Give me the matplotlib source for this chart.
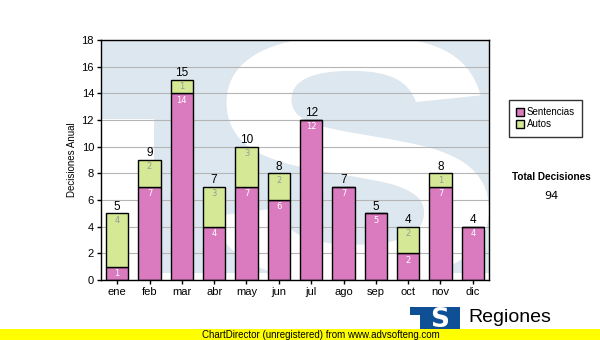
import matplotlib

matplotlib.use("Agg")
import numpy as np
from matplotlib import pyplot as plt
from matplotlib.font_manager import FontProperties
from matplotlib.patches import PathPatch, Polygon, Rectangle
from matplotlib.textpath import TextPath
from matplotlib.transforms import Affine2D

months = ["ene", "feb", "mar", "abr", "may", "jun", "jul", "ago", "sep", "oct", "nov", "dic"]
sentencias = [1, 7, 14, 4, 7, 6, 12, 7, 5, 2, 7, 4]
autos = [4, 2, 1, 3, 3, 2, 0, 0, 0, 2, 1, 0]
y_ticks = [0, 2, 4, 6, 8, 10, 12, 14, 16, 18]

PINK = "#da7bbf"
GREEN = "#d4e896"
WATERMARK = "#dde7f0"
LOGO_BLUE = "#0f4f95"

plt.rcParams["font.family"] = ["Liberation Sans", "DejaVu Sans"]

fig = plt.figure(figsize=(6, 3.4), dpi=100)
ax = fig.add_axes([101 / 600, 60 / 340, 388 / 600, 240 / 340])
ax.set_facecolor("white")
ax.set_axisbelow(True)

# background logo: blue block with a big white S cut into it
block = Polygon(
    [(0, 1), (1, 1), (1, 0.03), (0.137, 0.03), (0.137, 0.671), (0, 0.671)],
    closed=True, transform=ax.transAxes, facecolor=WATERMARK, edgecolor="none", zorder=0.1,
)
ax.add_patch(block)
s_path = TextPath((0, 0), "S", size=1, prop=FontProperties(family="Liberation Sans", weight="bold"))
ext = s_path.get_extents()
x0, x1, y0, y1 = 0.285, 1.0, -0.01, 1.02
s_tr = (
    Affine2D().translate(-ext.x0, -ext.y0).scale((x1 - x0) / ext.width, (y1 - y0) / ext.height).translate(x0, y0)
    + ax.transAxes
)
ax.add_patch(PathPatch(s_path, transform=s_tr, facecolor="white", edgecolor="none", zorder=0.2))

x = np.arange(len(months))
totals = [s + a for s, a in zip(sentencias, autos)]
width = 0.69

ax.bar(x, sentencias, width, color=PINK, edgecolor="black", linewidth=1, zorder=2, label="Sentencias")
ax.bar(x, autos, width, bottom=sentencias, color=GREEN, edgecolor="black", linewidth=1, zorder=2, label="Autos")

for i in range(len(months)):
    if sentencias[i] > 0:
        ax.annotate(str(sentencias[i]), (x[i], sentencias[i]), xytext=(0, -5), textcoords="offset points",
                    ha="center", va="center", fontsize=6, color="white", family="DejaVu Sans", zorder=3)
    if autos[i] > 0:
        ax.annotate(str(autos[i]), (x[i], totals[i]), xytext=(0, -5), textcoords="offset points",
                    ha="center", va="center", fontsize=6, color="#9a9a9a", family="DejaVu Sans", zorder=3)
    ax.annotate(str(totals[i]), (x[i], totals[i]), xytext=(0, 0.5), textcoords="offset points",
                ha="center", va="bottom", fontsize=8.5, color="black", zorder=3)

ax.set_xlim(-0.5, len(months) - 0.5)
ax.set_ylim(0, 18)
ax.set_xticks(x)
ax.set_xticklabels(months, fontsize=8)
ax.set_yticks(y_ticks)
ax.tick_params(axis="y", labelsize=8, length=3, width=1, pad=2)
ax.tick_params(axis="x", length=3, width=1, pad=2)
ax.yaxis.grid(True, color="#b5b5b5", linewidth=0.8)
for spine in ax.spines.values():
    spine.set_linewidth(1)
    spine.set_color("black")

ax.set_ylabel("Decisiones Anual", fontsize=7)
ax.yaxis.set_label_coords(-(101 - 77) / 388, 0.5)

leg = fig.legend(loc="upper left", bbox_to_anchor=(509 / 600, 1 - 100 / 340), fontsize=7, frameon=True,
                 fancybox=False, edgecolor="black", borderaxespad=0, handlelength=0.8, handleheight=0.8,
                 handletextpad=0.3, borderpad=0.75, labelspacing=0.2)
leg.get_frame().set_linewidth(1)

fig.text(551 / 600, 1 - 177 / 340, "Total Decisiones", fontsize=7.2, weight="bold", ha="center", va="center")
fig.text(551 / 600, 1 - 196 / 340, str(sum(totals)), fontsize=8, ha="center", va="center",
         family="DejaVu Sans")

# footer: institution logo and the unregistered banner
fig.patches.append(Rectangle((410 / 600, 1 - 315 / 340), 50 / 600, 8 / 340, transform=fig.transFigure,
                             facecolor=LOGO_BLUE, edgecolor="none", zorder=1))
fig.patches.append(Rectangle((420 / 600, 0), 40 / 600, 33 / 340, transform=fig.transFigure,
                             facecolor=LOGO_BLUE, edgecolor="none", zorder=1))
fig.text(440 / 600, 1 - 320 / 340, "S", fontsize=19, weight="bold", color="white", ha="center", va="center",
         family="DejaVu Sans", zorder=2)
fig.text(468 / 600, 1 - 322 / 340, "Regiones", fontsize=14, ha="left", va="baseline", zorder=2)
fig.patches.append(Rectangle((0, 0), 1, 11 / 340, transform=fig.transFigure, facecolor="#ffff00",
                             edgecolor="none", zorder=3))
fig.text(321 / 600, 1 - 335 / 340, "ChartDirector (unregistered) from www.advsofteng.com", fontsize=7,
         ha="center", va="center", zorder=4)

fig.savefig("out.png", dpi=100)
